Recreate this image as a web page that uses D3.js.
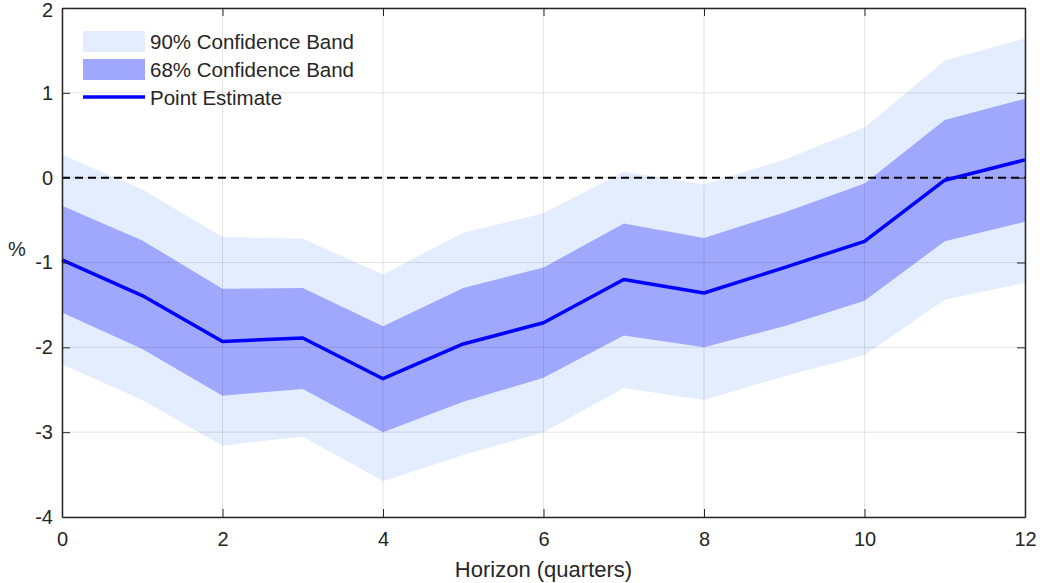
<!DOCTYPE html>
<html>
<head>
<meta charset="utf-8">
<script src="https://cdn.jsdelivr.net/npm/d3@7"></script>
<style>
  body { margin: 0; background: #fff; }
  text { font-family: "Liberation Sans", Arial, sans-serif; fill: #262626; }
</style>
</head>
<body>
<svg id="chart"></svg>
<script>
// horizons and estimates
const horizon = [0, 1, 2, 3, 4, 5, 6, 7, 8, 9, 10, 11, 12];
const point = [-0.97, -1.39, -1.93, -1.89, -2.37, -1.96, -1.71, -1.20, -1.36, -1.06, -0.75, -0.03, 0.21];
const upper68 = [-0.33, -0.74, -1.31, -1.30, -1.75, -1.30, -1.06, -0.54, -0.71, -0.41, -0.07, 0.68, 0.93];
const lower68 = [-1.59, -2.02, -2.57, -2.49, -3.00, -2.64, -2.36, -1.86, -2.00, -1.75, -1.45, -0.75, -0.52];
const upper90 = [0.27, -0.14, -0.70, -0.72, -1.14, -0.65, -0.42, 0.07, -0.08, 0.21, 0.59, 1.38, 1.64];
const lower90 = [-2.20, -2.62, -3.16, -3.05, -3.58, -3.27, -3.00, -2.48, -2.62, -2.34, -2.09, -1.44, -1.24];
const xTicks = [0, 2, 4, 6, 8, 10, 12];
const yTicks = [-4, -3, -2, -1, 0, 1, 2];
const legendLabels = ['90% Confidence Band', '68% Confidence Band', 'Point Estimate'];

let width = 1042;
let height = 583;
let margin = { top: 8, right: 17, bottom: 66, left: 62 };

let svg = d3.select('#chart')
  .attr('width', width)
  .attr('height', height);

let x = d3.scaleLinear().domain([0, 12]).range([margin.left, width - margin.right]);
let y = d3.scaleLinear().domain([-4, 2]).range([height - margin.bottom, margin.top]);

let rows = horizon.map((h, i) => ({
  h: h, p: point[i], u68: upper68[i], l68: lower68[i], u90: upper90[i], l90: lower90[i]
}));

let band = (lo, hi) => d3.area()
  .x(d => x(d.h))
  .y0(d => y(d[lo]))
  .y1(d => y(d[hi]));

svg.append('path')
  .datum(rows)
  .attr('d', band('l90', 'u90'))
  .attr('fill', '#e3edfd');

svg.append('path')
  .datum(rows)
  .attr('d', band('l68', 'u68'))
  .attr('fill', '#a0a8fd');

// grid on top, faint
let grid = svg.append('g');
grid.selectAll('.gx')
  .data(xTicks)
  .enter()
  .append('line')
  .attr('x1', d => x(d)).attr('x2', d => x(d))
  .attr('y1', y(-4)).attr('y2', y(2))
  .attr('stroke', '#262626').attr('stroke-opacity', 0.12).attr('stroke-width', 1);
grid.selectAll('.gy')
  .data(yTicks)
  .enter()
  .append('line')
  .attr('x1', x(0)).attr('x2', x(12))
  .attr('y1', d => y(d)).attr('y2', d => y(d))
  .attr('stroke', '#262626').attr('stroke-opacity', 0.12).attr('stroke-width', 1);

// zero line
svg.append('line')
  .attr('x1', x(0)).attr('x2', x(12))
  .attr('y1', y(0)).attr('y2', y(0))
  .attr('stroke', '#000')
  .attr('stroke-width', 2)
  .attr('stroke-dasharray', '8,5');

svg.append('path')
  .datum(rows)
  .attr('d', d3.line().x(d => x(d.h)).y(d => y(d.p)))
  .attr('fill', 'none')
  .attr('stroke', '#0000ff')
  .attr('stroke-width', 3.5)
  .attr('stroke-linejoin', 'round');

// axes, matlab style box with inner ticks
let fmt = d => String(d);
let axBottom = svg.append('g')
  .attr('transform', `translate(0,${y(-4)})`)
  .call(d3.axisBottom(x).tickValues(xTicks).tickSizeInner(-8).tickSizeOuter(0).tickPadding(15).tickFormat(fmt));
let axTop = svg.append('g')
  .attr('transform', `translate(0,${y(2)})`)
  .call(d3.axisTop(x).tickValues(xTicks).tickSizeInner(-8).tickSizeOuter(0).tickFormat(''));
let axLeft = svg.append('g')
  .attr('transform', `translate(${x(0)},0)`)
  .call(d3.axisLeft(y).tickValues(yTicks).tickSizeInner(-8).tickSizeOuter(0).tickPadding(9).tickFormat(fmt));
let axRight = svg.append('g')
  .attr('transform', `translate(${x(12)},0)`)
  .call(d3.axisRight(y).tickValues(yTicks).tickSizeInner(-8).tickSizeOuter(0).tickFormat(''));

[axBottom, axTop, axLeft, axRight].forEach(g => {
  g.select('.domain').attr('stroke', '#262626').attr('stroke-width', 1.5);
  g.selectAll('.tick line').attr('stroke', '#262626').attr('stroke-width', 1);
  g.selectAll('.tick text')
    .style('font-family', '"Liberation Sans", Arial, sans-serif')
    .style('font-size', '20px')
    .attr('fill', '#262626');
});
axLeft.selectAll('.tick line').filter(d => d === 2 || d === -4).remove();
axRight.selectAll('.tick line').filter(d => d === 2 || d === -4).remove();
// keep the top label inside the page
axLeft.selectAll('.tick text').filter(d => d === 2).attr('dy', '0.42em');

svg.append('text')
  .attr('x', x(6))
  .attr('y', 577)
  .attr('text-anchor', 'middle')
  .attr('font-size', 22)
  .text('Horizon (quarters)');

svg.append('text')
  .attr('x', 17)
  .attr('y', 256)
  .attr('text-anchor', 'middle')
  .attr('font-size', 20)
  .text('%');

// legend, no frame
let legend = svg.append('g').attr('transform', 'translate(83,31)');
let legendColors = ['#e3edfd', '#a0a8fd', '#0000ff'];
legendLabels.forEach((label, i) => {
  let ly = i * 28;
  if (i < 2) {
    legend.append('rect')
      .attr('x', 0).attr('y', ly)
      .attr('width', 62).attr('height', 21)
      .attr('fill', legendColors[i]);
  } else {
    legend.append('line')
      .attr('x1', 0).attr('x2', 62)
      .attr('y1', ly + 10).attr('y2', ly + 10)
      .attr('stroke', legendColors[i])
      .attr('stroke-width', 3.5);
  }
  legend.append('text')
    .attr('x', 67)
    .attr('y', ly + 18)
    .attr('font-size', 20.5)
    .text(label);
});
</script>
</body>
</html>
